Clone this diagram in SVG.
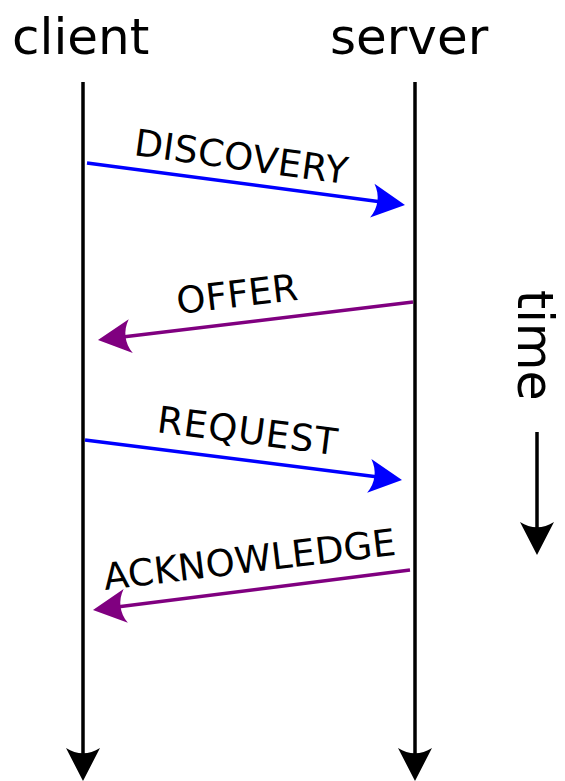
<svg xmlns="http://www.w3.org/2000/svg" width="565" height="781" viewBox="0 0 565 781">
<style>
text{font-family:"DejaVu Sans","Liberation Sans",sans-serif;fill:#000}
.big{font-size:50px}
.lbl{font-size:37px}
.life{stroke:#000;stroke-width:3.5;fill:none}
.blue{stroke:#0000ff;stroke-width:3.5;fill:none}
.purple{stroke:#800080;stroke-width:3.5;fill:none}
</style>
<defs>
<marker id="hk" markerUnits="userSpaceOnUse" markerWidth="40" markerHeight="40" viewBox="-25 -20 40 40" refX="0" refY="0" orient="auto"><path d="M12,0 L-21,-17 C-14,-6 -14,6 -21,17 Z" fill="#000"/></marker>
<marker id="hb" markerUnits="userSpaceOnUse" markerWidth="40" markerHeight="40" viewBox="-25 -20 40 40" refX="0" refY="0" orient="auto"><path d="M12,0 L-21,-17 C-14,-6 -14,6 -21,17 Z" fill="#0000ff"/></marker>
<marker id="hp" markerUnits="userSpaceOnUse" markerWidth="40" markerHeight="40" viewBox="-25 -20 40 40" refX="0" refY="0" orient="auto"><path d="M12,0 L-21,-17 C-14,-6 -14,6 -21,17 Z" fill="#800080"/></marker>
</defs>
<g id="client"><text class="big" x="12" y="54">client</text></g>
<g id="server"><text class="big" x="330" y="54">server</text></g>
<g id="time"><text class="big" style="font-size:49px" transform="translate(518,290) rotate(90)">time</text></g>
<g id="connectors">
<line class="life" x1="83" y1="82" x2="83" y2="769" marker-end="url(#hk)"/>
<line class="life" x1="415" y1="82" x2="415" y2="769" marker-end="url(#hk)"/>
<line class="life" x1="537" y1="432" x2="537" y2="543" marker-end="url(#hk)"/>
<line class="blue" x1="87" y1="163" x2="393.1" y2="203.4" marker-end="url(#hb)"/>
<line class="purple" x1="413" y1="302" x2="109.9" y2="338.6" marker-end="url(#hp)"/>
<line class="blue" x1="85" y1="440" x2="390.1" y2="478.5" marker-end="url(#hb)"/>
<line class="purple" x1="410" y1="570" x2="104.9" y2="608.5" marker-end="url(#hp)"/>
</g>
<g id="labels">
<text class="lbl" transform="translate(133,155) rotate(7.8)" textLength="215" lengthAdjust="spacing">DISCOVERY</text>
<text class="lbl" transform="translate(178,314) rotate(-6.7)" textLength="122" lengthAdjust="spacing">OFFER</text>
<text class="lbl" transform="translate(156,432) rotate(7.3)" textLength="181" lengthAdjust="spacing">REQUEST</text>
<text class="lbl" transform="translate(105,590) rotate(-6.9)" textLength="294" lengthAdjust="spacing">ACKNOWLEDGE</text>
</g>
</svg>
